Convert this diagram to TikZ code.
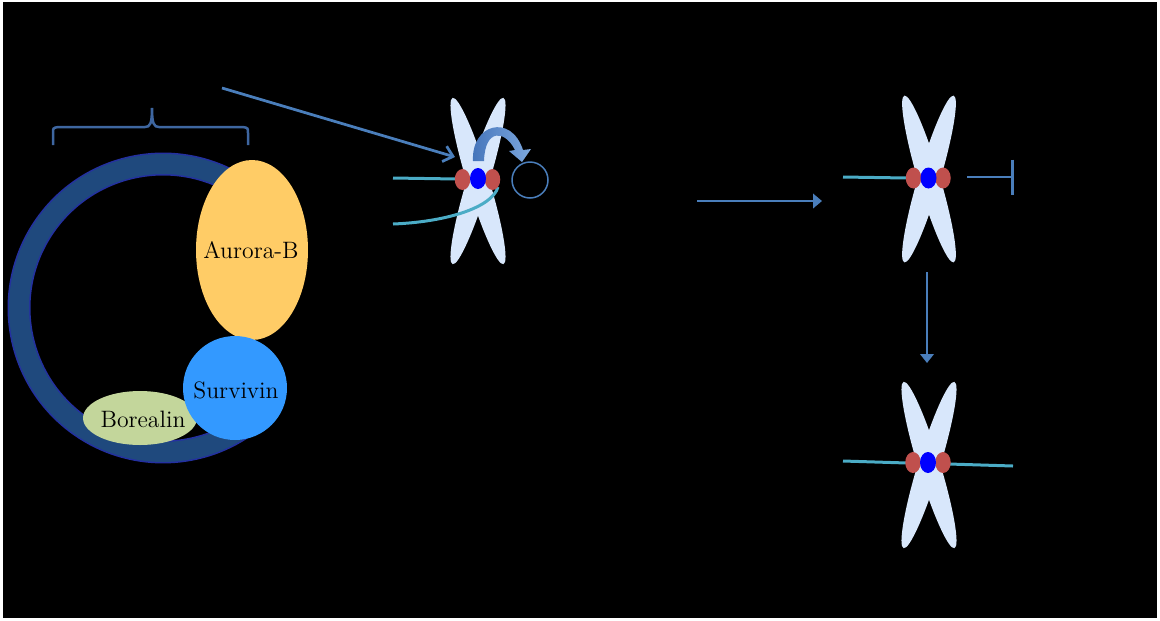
\documentclass[tikz,border=0pt]{standalone}
\usetikzlibrary{shapes.geometric,arrows.meta}
\definecolor{arrowblue}{RGB}{74,126,187}
\definecolor{braceblue}{RGB}{62,102,160}
\definecolor{curvedark}{RGB}{68,116,186}
\definecolor{curvelight}{RGB}{125,168,222}
\definecolor{mtteal}{RGB}{75,172,198}
\definecolor{chromatidcol}{RGB}{216,231,251}
\definecolor{kinetored}{RGB}{192,80,77}
\definecolor{centroblue}{RGB}{0,0,255}
\definecolor{auroracol}{RGB}{255,204,102}
\definecolor{survivincol}{RGB}{51,153,255}
\definecolor{borealincol}{RGB}{195,214,155}
\definecolor{ringcol}{RGB}{31,73,125}
\definecolor{ringedge}{RGB}{36,48,160}
\begin{document}
\begin{tikzpicture}[x=0.02cm,y=-0.02cm,
  chromatid/.style={ellipse,fill=chromatidcol,inner sep=0,minimum width=0.44cm,minimum height=3.48cm},
  kineto/.style={ellipse,fill=kinetored,inner sep=0,minimum width=0.31cm,minimum height=0.42cm},
  centro/.style={ellipse,fill=centroblue,inner sep=0,minimum width=0.32cm,minimum height=0.42cm},
  mt/.style={draw=mtteal,line width=0.06cm},
  arr/.style={draw=arrowblue,line width=0.055cm},
  label/.style={font=\fontsize{13.5}{16}\selectfont,text=black,inner sep=0}]
\useasboundingbox (0,0) rectangle (1160,620);
\fill[white] (0,0) rectangle (1160,620);
\fill[black] (3,2) rectangle (1157,618);

% CPC ring
\coordinate (ringc) at (163,308);
\draw[ringedge,line width=0.46cm] (ringc) ++(55:2.88cm) arc[start angle=55,end angle=305,radius=2.88cm];
\draw[ringcol,line width=0.40cm] (ringc) ++(55:2.88cm) arc[start angle=55,end angle=305,radius=2.88cm];

% brace over the complex
\draw[braceblue,line width=0.05cm] (53,145) -- (53,133) .. controls (53,128) .. (58,127) -- (145,127)
  .. controls (150,127) and (152,124) .. (152,108)
  .. controls (152,124) and (154,127) .. (159,127) -- (243,127) .. controls (248,128) .. (248,133) -- (248,145);

% subunits
\node[ellipse,fill=borealincol,inner sep=0,minimum width=2.28cm,minimum height=1.08cm] (borealin) at (140,418) {};
\node[label] (borealinlabel) at (143,419) {Borealin};
\node[ellipse,fill=auroracol,inner sep=0,minimum width=2.24cm,minimum height=3.6cm] (aurora) at (252,250) {};
\node[label] (auroralabel) at (251,250) {Aurora-B};
\node[circle,fill=survivincol,inner sep=0,minimum size=2.08cm] (survivin) at (235,388) {};
\node[label] (survivinlabel) at (236,390) {Survivin};

% chromosome 1
\node[chromatid,rotate=17] (c1a) at (478,181) {};
\node[chromatid,rotate=-17] (c1b) at (478,181) {};
\coordinate (mt1a) at (393,178);
\coordinate (mt1b) at (393,224);
\draw[mt] (mt1a) -- (457,179);
\draw[mt] (mt1b) .. controls (445,222) and (492,208) .. (498,187);
\node[kineto] (c1l) at (462.5,179.5) {};
\node[kineto] (c1r) at (492.5,179.5) {};
\node[centro] (c1c) at (478,178.5) {};

% curved block arrow towards the released target
\node[circle,draw=arrowblue,line width=0.03cm,inner sep=0,minimum size=0.72cm] (target) at (530,180) {};
\shade[left color=curvedark,right color=curvelight]
  (473,161) .. controls (471,124) and (511,113) .. (523,150)
  -- (531,149) -- (522,162) -- (509,151) -- (515,150)
  .. controls (505,130) and (485,128) .. (484,161) -- cycle;

% arrow into chromosome 1
\coordinate (src) at (222,88);
\coordinate (c1in) at (455,157);
\draw[arr,-{Straight Barb[length=1.8mm,width=3.2mm]}] (src) -- (c1in);

% horizontal arrow
\coordinate (h1) at (697,201);
\coordinate (h2) at (822,201);
\draw[arr,-{Triangle[length=1.8mm,width=2.9mm]}] (h1) -- (h2);

% chromosome 2
\node[chromatid,rotate=16.5] (c2a) at (929,179) {};
\node[chromatid,rotate=-16.5] (c2b) at (929,179) {};
\coordinate (mt2) at (843,177);
\draw[mt] (mt2) -- (907,178);
\node[kineto] (c2l) at (913.5,178) {};
\node[kineto] (c2r) at (943,178) {};
\node[centro] (c2c) at (928.5,178) {};

% inhibition
\coordinate (inh1) at (967,177);
\coordinate (inh2) at (1014,177);
\draw[arr,-{Bar[width=0.7cm]}] (inh1) -- (inh2);

% vertical arrow
\coordinate (v1) at (927,272);
\coordinate (v2) at (927,363);
\draw[arr,-{Triangle[length=1.8mm,width=2.7mm]}] (v1) -- (v2);

% chromosome 3
\node[chromatid,rotate=17] (c3a) at (929,465) {};
\node[chromatid,rotate=-17] (c3b) at (929,465) {};
\coordinate (mt3l) at (843,461);
\coordinate (mt3r) at (1013,466);
\draw[mt] (mt3l) -- (907,463);
\draw[mt] (949,464) -- (mt3r);
\node[kineto] (c3l) at (913,462.5) {};
\node[kineto] (c3r) at (943,462.5) {};
\node[centro] (c3c) at (928,462.5) {};
\end{tikzpicture}
\end{document}
